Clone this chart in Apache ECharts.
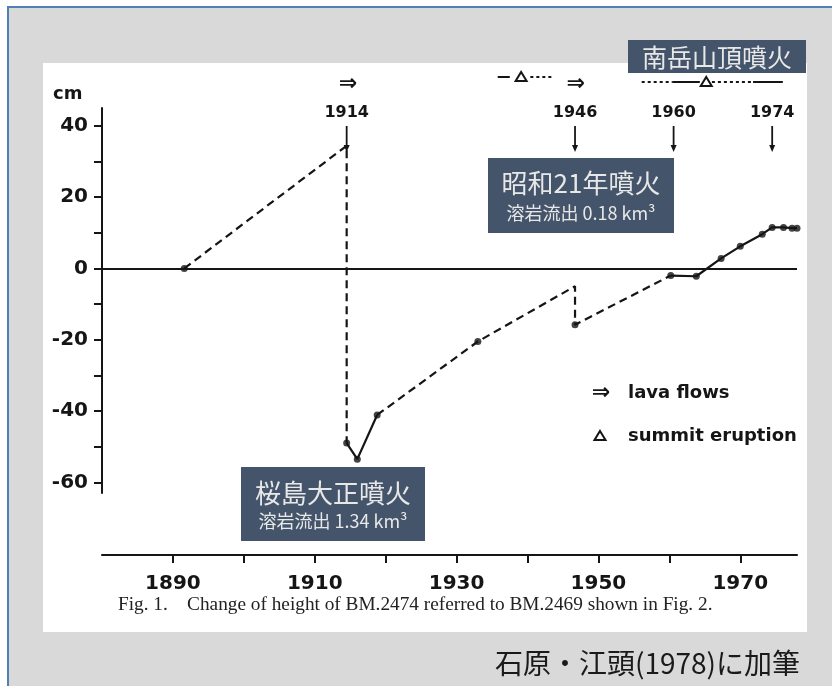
<!DOCTYPE html>
<html><head><meta charset="utf-8">
<script src="https://cdn.jsdelivr.net/npm/echarts@6/dist/echarts.min.js"></script>
<style>html,body{margin:0;padding:0;background:#fff}#c{width:832px;height:686px}</style>
</head><body><div id="c"></div>
<script>
// ---- data ----
const dashA_years = [1891.6, 1914.5, 1914.5];
const dashA_vals  = [0, 34.4, -49.0];
const solidA_years = [1914.5, 1916.0, 1918.8];
const solidA_vals  = [-49.0, -53.5, -41.1];
const dashB_years = [1918.8, 1933.0, 1946.7, 1946.7, 1960.2];
const dashB_vals  = [-41.1, -20.5, -5.0, -15.8, -2.0];
const solidB_years = [1960.2, 1963.8, 1967.3, 1970.0, 1973.1, 1974.5, 1976.1, 1977.3, 1978.0];
const solidB_vals  = [-2.0, -2.2, 2.8, 6.2, 9.6, 11.5, 11.5, 11.3, 11.3];
const dotYears = [1891.6, 1914.5, 1916.0, 1918.8, 1933.0, 1946.7, 1960.2, 1963.8, 1967.3, 1970.0, 1973.1, 1974.5, 1976.1, 1977.3, 1978.0];
const dotVals  = [0, -49.0, -53.5, -41.1, -20.5, -15.8, -2.0, -2.2, 2.8, 6.2, 9.6, 11.5, 11.5, 11.3, 11.3];

const eventYears  = [1914.5, 1946.7, 1960.6, 1974.5];
const eventLabels = ['1914', '1946', '1960', '1974'];
const lavaYears   = [1914.7, 1946.8];
const summitSpans = [[1935.8, 1937.5, 'solid'], [1940.4, 1943.5, 'dotted'],
                     [1956.1, 1960.4, 'dotted'], [1960.4, 1964.3, 'solid'],
                     [1966.0, 1971.7, 'dotted'], [1971.8, 1976.0, 'solid']];
const summitMarks = [1939.1, 1965.2];

const yTicks  = [-60, -50, -40, -30, -20, -10, 0, 10, 20, 30, 40];
const yLabels = [-60, -40, -20, 0, 20, 40];
const xTicks  = [1890, 1900, 1910, 1920, 1930, 1940, 1950, 1960, 1970];
const xLabels = [1890, 1910, 1930, 1950, 1970];

const zip = (a, b) => a.map((v, i) => [v, b[i]]);
const INK = '#151515';
const DASH = [8, 5];
const BOLD = 'DejaVu Sans';

const chart = echarts.init(document.getElementById('c'), null, {renderer: 'canvas'});

function lineSeries(xs, ys, dashed) {
  return {type: 'line', data: zip(xs, ys), symbol: 'none', clip: false, z: 3,
          lineStyle: {color: INK, width: 2.2, type: dashed ? DASH : 'solid'}};
}

const option = {
  animation: false,
  backgroundColor: '#ffffff',
  grid: {left: 102, right: 35, top: 108, bottom: 193, containLabel: false},
  xAxis: {
    type: 'value', min: 1880, max: 1978, offset: 62,
    axisLine: {show: true, onZero: false, lineStyle: {color: INK, width: 2}},
    axisTick: {show: true, customValues: xTicks, length: 8, lineStyle: {color: INK, width: 2}},
    axisLabel: {customValues: xLabels, formatter: v => String(v), color: INK, fontFamily: BOLD,
      fontWeight: 'bold', fontSize: 20, margin: 19},
    splitLine: {show: false}
  },
  yAxis: {
    type: 'value', min: -63, max: 45,
    axisLine: {show: true, onZero: false, lineStyle: {color: INK, width: 2}},
    axisTick: {show: true, customValues: yTicks, length: 8, lineStyle: {color: INK, width: 2}},
    axisLabel: {customValues: yLabels, formatter: v => String(v), color: INK, fontFamily: BOLD,
      fontWeight: 'bold', fontSize: 20, margin: 14},
    splitLine: {show: false}
  },
  series: [
    Object.assign(lineSeries(dashA_years, dashA_vals, true), {
      markLine: {silent: true, symbol: 'none', label: {show: false},
        lineStyle: {color: INK, width: 2, type: 'solid'}, data: [{yAxis: 0}]}
    }),
    lineSeries(solidA_years, solidA_vals, false),
    lineSeries(dashB_years, dashB_vals, true),
    lineSeries(solidB_years, solidB_vals, false),
    {type: 'scatter', data: zip(dotYears, dotVals), symbol: 'circle', symbolSize: 7,
     itemStyle: {color: INK}, z: 4, clip: false},
    // event year labels + arrows above the plot
    {type: 'custom', clip: false, z: 5, data: eventYears.map(y => [y]),
     renderItem: function (params, api) {
       const x = api.coord([api.value(0), 0])[0];
       const top = params.coordSys.y;
       const y1 = top + 18, y2 = top + 44;
       return {type: 'group', children: [
         {type: 'text', style: {text: eventLabels[params.dataIndex], x: x, y: top + 5, align: 'center',
           verticalAlign: 'middle', font: 'bold 16px "DejaVu Sans"', fill: INK}},
         {type: 'line', shape: {x1: x, y1: y1, x2: x, y2: y2 - 4}, style: {stroke: INK, lineWidth: 1.8}},
         {type: 'polygon', shape: {points: [[x - 3, y2 - 7], [x + 3, y2 - 7], [x, y2]]}, style: {fill: INK}}
       ]};
     }},
    // lava-flow symbols
    {type: 'custom', clip: false, z: 5, data: lavaYears.map(y => [y]),
     renderItem: function (params, api) {
       const x = api.coord([api.value(0), 0])[0];
       const top = params.coordSys.y;
       return {type: 'text', style: {text: '⇒', x: x, y: top - 24, align: 'center', verticalAlign: 'middle',
         font: 'bold 22px "DejaVu Sans"', fill: INK}};
     }},
    // summit eruption timeline spans
    {type: 'custom', clip: false, z: 5, data: summitSpans.map(s => [s[0], s[1]]),
     renderItem: function (params, api) {
       const a = api.coord([api.value(0), 0])[0];
       const b = api.coord([api.value(1), 0])[0];
       const top = params.coordSys.y;
       const y = top + (api.value(0) < 1950 ? -31 : -26);
       const dotted = summitSpans[params.dataIndex][2] === 'dotted';
       return {type: 'line', shape: {x1: a, y1: y, x2: b, y2: y},
         style: {stroke: INK, lineWidth: 2, lineDash: dotted ? [3, 3] : null}};
     }},
    {type: 'custom', clip: false, z: 5, data: summitMarks.map(y => [y]),
     renderItem: function (params, api) {
       const x = api.coord([api.value(0), 0])[0];
       const top = params.coordSys.y;
       const y = top + (api.value(0) < 1950 ? -31 : -26);
       return {type: 'polygon', shape: {points: [[x, y - 5], [x + 5.5, y + 4], [x - 5.5, y + 4]]},
         style: {fill: '#fff', stroke: INK, lineWidth: 2}};
     }}
  ],
  graphic: [
    {type: 'rect', z: -20, shape: {x: 8, y: 7, width: 840, height: 700},
     style: {fill: '#d9d9d9', stroke: '#4f7fb3', lineWidth: 2}},
    {type: 'rect', z: -19, shape: {x: 43, y: 63, width: 764, height: 569}, style: {fill: '#ffffff'}},
    {type: 'text', z: 10, style: {text: 'cm', x: 53, y: 94, verticalAlign: 'middle',
      font: 'bold 18px "DejaVu Sans"', fill: INK}},
    // legend
    {type: 'text', z: 10, style: {text: '⇒', x: 601, y: 393, align: 'center', verticalAlign: 'middle',
      font: 'bold 22px "DejaVu Sans"', fill: INK}},
    {type: 'text', z: 10, style: {text: 'lava flows', x: 628, y: 393, verticalAlign: 'middle',
      font: 'bold 18px "DejaVu Sans"', fill: INK}},
    {type: 'polygon', z: 10, shape: {points: [[600, 431], [605.5, 440], [594.5, 440]]},
     style: {fill: '#fff', stroke: INK, lineWidth: 2}},
    {type: 'text', z: 10, style: {text: 'summit eruption', x: 628, y: 436, verticalAlign: 'middle',
      font: 'bold 18px "DejaVu Sans"', fill: INK}},
    // caption
    {type: 'text', z: 10, style: {text: 'Fig. 1.    Change of height of BM.2474 referred to BM.2469 shown in Fig. 2.',
      x: 118, y: 605, verticalAlign: 'middle', font: '19.3px "Liberation Serif"', fill: '#222'}},
    // credit
    {type: 'text', z: 10, style: {text: '石原・江頭(1978)に加筆', x: 800, y: 663, align: 'right',
      verticalAlign: 'middle', font: '28px "Noto Sans CJK JP"', fill: '#1a1a1a'}},
    // annotation boxes
    {type: 'rect', z: 10, shape: {x: 628, y: 40, width: 178, height: 33}, style: {fill: '#44546a'}},
    {type: 'text', z: 11, style: {text: '南岳山頂噴火', x: 717, y: 57, align: 'center', verticalAlign: 'middle',
      font: '25px "Noto Sans CJK JP"', fill: '#e8e8e8'}},
    {type: 'rect', z: 10, shape: {x: 488, y: 158, width: 186, height: 75}, style: {fill: '#44546a'}},
    {type: 'text', z: 11, style: {text: '昭和21年噴火', x: 581, y: 183, align: 'center', verticalAlign: 'middle',
      font: '26px "Noto Sans CJK JP"', fill: '#e8e8e8'}},
    {type: 'text', z: 11, style: {text: '溶岩流出 0.18 km³', x: 581, y: 213, align: 'center', verticalAlign: 'middle',
      font: '18px "Noto Sans CJK JP"', fill: '#e8e8e8'}},
    {type: 'rect', z: 10, shape: {x: 241, y: 467, width: 184, height: 74}, style: {fill: '#44546a'}},
    {type: 'text', z: 11, style: {text: '桜島大正噴火', x: 333, y: 493, align: 'center', verticalAlign: 'middle',
      font: '26px "Noto Sans CJK JP"', fill: '#e8e8e8'}},
    {type: 'text', z: 11, style: {text: '溶岩流出 1.34 km³', x: 333, y: 521, align: 'center', verticalAlign: 'middle',
      font: '18px "Noto Sans CJK JP"', fill: '#e8e8e8'}}
  ]
};
chart.setOption(option);
</script>
</body></html>
